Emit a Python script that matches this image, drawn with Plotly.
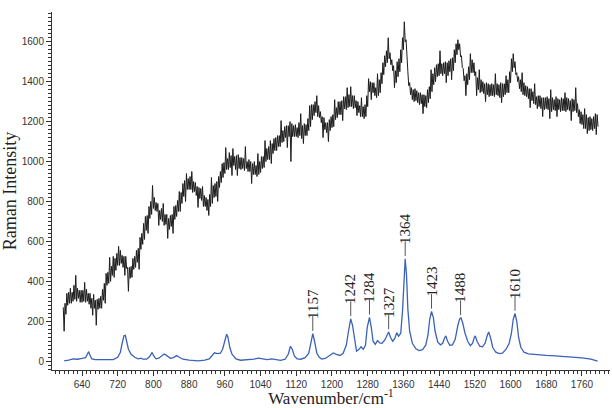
import plotly.graph_objects as go
import numpy as np

# ---- black (raw) spectrum: wavenumber start/step and intensities ----
raw_start = 598
raw_step = 2
raw_intensity = [
    270, 150, 290, 235, 340, 280, 345, 290, 365, 290, 345, 300, 380, 310, 430, 300, 365, 315, 355, 295,
    355, 295, 355, 300, 395, 295, 360, 300, 340, 285, 340, 265, 315, 230, 335, 265, 305, 180, 310, 260,
    315, 265, 325, 265, 360, 305, 390, 290, 440, 380, 445, 390, 520, 400, 475, 430, 525, 420, 515, 455,
    540, 480, 575, 480, 555, 490, 530, 470, 525, 430, 525, 465, 470, 350, 470, 415, 475, 420, 515, 460,
    525, 470, 555, 495, 565, 460, 620, 560, 640, 585, 690, 610, 725, 655, 730, 640, 775, 715, 800, 735,
    880, 765, 820, 755, 795, 750, 790, 680, 755, 710, 765, 700, 790, 680, 735, 685, 735, 615, 715, 660,
    730, 675, 735, 640, 775, 710, 780, 725, 805, 750, 850, 750, 845, 790, 890, 825, 905, 800, 940, 860,
    915, 860, 925, 860, 950, 845, 900, 850, 895, 830, 875, 770, 870, 815, 865, 805, 875, 775, 830, 775,
    820, 755, 810, 730, 835, 775, 920, 790, 880, 820, 890, 825, 900, 800, 925, 870, 950, 895, 990, 920,
    995, 940, 1070, 960, 1015, 960, 1045, 970, 1030, 930, 1065, 980, 1025, 960, 1030, 930, 1035, 965, 1020, 960,
    1020, 965, 1015, 955, 1075, 965, 1000, 950, 1010, 950, 1000, 890, 990, 935, 1000, 935, 980, 925, 1040, 935,
    1000, 945, 1025, 965, 1025, 970, 1105, 1000, 1065, 1010, 1075, 1010, 1105, 990, 1090, 1040, 1115, 1055, 1120, 1055,
    1130, 1075, 1130, 1075, 1205, 1095, 1155, 1100, 1175, 1120, 1180, 1070, 1180, 1125, 1200, 1000, 1190, 1125, 1180, 1125,
    1185, 1125, 1170, 1120, 1195, 1130, 1240, 1115, 1180, 1090, 1190, 1130, 1185, 1130, 1215, 1155, 1280, 1175, 1285, 1210,
    1285, 1230, 1300, 1245, 1330, 1225, 1280, 1220, 1250, 1195, 1225, 1120, 1220, 1160, 1195, 1145, 1195, 1100, 1210, 1155,
    1225, 1170, 1235, 1175, 1310, 1210, 1270, 1220, 1300, 1235, 1300, 1235, 1305, 1205, 1325, 1265, 1325, 1260, 1370, 1270,
    1335, 1275, 1375, 1275, 1330, 1265, 1330, 1270, 1305, 1230, 1300, 1245, 1280, 1225, 1320, 1225, 1275, 1215, 1285, 1225,
    1330, 1275, 1415, 1350, 1400, 1310, 1395, 1345, 1395, 1330, 1370, 1320, 1440, 1330, 1410, 1345, 1445, 1390, 1495, 1435,
    1530, 1475, 1555, 1495, 1620, 1515, 1545, 1485, 1510, 1455, 1480, 1370, 1455, 1395, 1500, 1425, 1515, 1450, 1560, 1495,
    1620, 1560, 1700, 1600, 1610, 1500, 1450, 1380, 1395, 1335, 1370, 1310, 1360, 1300, 1365, 1305, 1355, 1295, 1345, 1285,
    1345, 1290, 1335, 1240, 1335, 1275, 1330, 1270, 1360, 1295, 1375, 1315, 1460, 1350, 1440, 1385, 1470, 1400, 1485, 1425,
    1490, 1430, 1555, 1440, 1490, 1430, 1495, 1440, 1500, 1395, 1495, 1430, 1505, 1450, 1515, 1410, 1520, 1455, 1560, 1495,
    1590, 1535, 1610, 1560, 1590, 1525, 1530, 1470, 1465, 1405, 1430, 1330, 1440, 1385, 1475, 1410, 1540, 1445, 1510, 1445,
    1495, 1430, 1450, 1330, 1420, 1360, 1460, 1345, 1410, 1350, 1400, 1340, 1390, 1300, 1395, 1335, 1390, 1325, 1385, 1330,
    1390, 1330, 1385, 1325, 1440, 1335, 1390, 1330, 1385, 1320, 1395, 1295, 1390, 1325, 1390, 1335, 1430, 1345, 1410, 1345,
    1450, 1395, 1515, 1450, 1540, 1470, 1500, 1435, 1445, 1400, 1425, 1365, 1410, 1350, 1445, 1335, 1395, 1330, 1380, 1325,
    1375, 1315, 1365, 1270, 1365, 1305, 1350, 1290, 1390, 1285, 1325, 1265, 1330, 1275, 1330, 1265, 1320, 1225, 1320, 1260,
    1320, 1265, 1325, 1260, 1315, 1215, 1360, 1250, 1320, 1260, 1310, 1255, 1325, 1225, 1315, 1260, 1310, 1250, 1320, 1255,
    1315, 1255, 1345, 1250, 1320, 1260, 1315, 1255, 1305, 1205, 1315, 1250, 1310, 1255, 1370, 1245, 1290, 1225, 1260, 1190,
    1250, 1185, 1235, 1165, 1265, 1165, 1235, 1140, 1220, 1155, 1225, 1160, 1215, 1155, 1225, 1165, 1240, 1135, 1235, 1175,
]
raw_wavenumber = [raw_start + raw_step * i for i in range(len(raw_intensity))]

# ---- blue (processed) spectrum ----
proc_wavenumber = [
    600, 610, 620, 630, 640, 648, 652, 655, 658, 662, 670, 690, 700, 710, 720, 726, 730, 734, 737, 740,
    744, 750, 758, 766, 772, 776, 785, 792, 797, 801, 806, 812, 818, 824, 830, 838, 845, 852, 858, 866,
    880, 900, 915, 925, 932, 937, 943, 950, 955, 960, 964, 967, 971, 976, 985, 995, 1010, 1025, 1035, 1045,
    1055, 1065, 1072, 1085, 1095, 1102, 1107, 1111, 1116, 1122, 1130, 1140, 1148, 1153, 1157, 1161, 1166, 1172, 1177, 1185,
    1192, 1198, 1203, 1210, 1218, 1225, 1232, 1237, 1242, 1246, 1250, 1255, 1260, 1265, 1270, 1275, 1279, 1284, 1288, 1292,
    1297, 1302, 1307, 1312, 1318, 1323, 1327, 1331, 1336, 1341, 1345, 1349, 1354, 1358, 1361, 1364, 1367, 1370, 1374, 1380,
    1388, 1395, 1403, 1410, 1415, 1419, 1423, 1427, 1431, 1437, 1443, 1448, 1452, 1455, 1459, 1464, 1470, 1476, 1482, 1486,
    1489, 1493, 1498, 1504, 1510, 1515, 1519, 1521, 1525, 1531, 1537, 1543, 1548, 1551, 1555, 1560, 1567, 1575, 1582, 1590,
    1597, 1602, 1606, 1610, 1614, 1618, 1623, 1630, 1640, 1660, 1680, 1700, 1720, 1740, 1760, 1780, 1795,
]
proc_intensity = [
    2, 5, 12, 10, 14, 18, 35, 48, 30, 12, 8, 8, 10, 8, 20, 45, 90, 128, 130, 100,
    60, 35, 20, 12, 15, 10, 10, 25, 44, 25, 12, 15, 28, 36, 28, 15, 18, 28, 20, 10,
    5, 2, 5, 12, 30, 42, 38, 40, 60, 110, 135, 120, 70, 35, 12, 5, 6, 10, 15, 12,
    8, 12, 10, 4, 10, 35, 75, 60, 25, 12, 10, 18, 40, 100, 138, 100, 40, 18, 11, 14,
    25, 36, 41, 34, 29, 40, 80, 150, 212, 180, 110, 50, 58, 72, 60, 80, 170, 220, 170, 100,
    85, 103, 92, 90, 105, 130, 146, 120, 100, 115, 143, 125, 140, 250, 420, 513, 430, 260, 150, 90,
    62, 53, 58, 80, 130, 210, 249, 220, 150, 95, 82, 90, 115, 127, 100, 80, 82, 110, 180, 212,
    217, 190, 140, 100, 78, 90, 120, 127, 100, 75, 72, 90, 130, 146, 120, 70, 45, 38, 40, 60,
    90, 140, 210, 239, 200, 120, 70, 45, 37, 32, 29, 27, 24, 20, 17, 10, 0,
]

peak_labels = [1157, 1242, 1284, 1327, 1364, 1423, 1488, 1610]

fig = go.Figure()
fig.add_trace(go.Scatter(x=raw_wavenumber, y=raw_intensity, mode="lines",
                         line=dict(color="#1c1c1c", width=1), showlegend=False))
fig.add_trace(go.Scatter(x=proc_wavenumber, y=proc_intensity, mode="lines",
                         line=dict(color="#3a62b8", width=1.3), showlegend=False))

pw = np.array(proc_wavenumber)
pi = np.array(proc_intensity)
for p in peak_labels:
    h = pi[np.abs(pw - p) <= 4].max()
    fig.add_shape(type="line", x0=p, x1=p, y0=h + 14, y1=h + 88,
                  line=dict(color="#555555", width=1))
    fig.add_annotation(x=p, y=h + 88, text=str(p), showarrow=False, textangle=-90,
                       xanchor="center", yanchor="bottom", yshift=-5,
                       font=dict(family="Liberation Serif", size=15, color="#222222"))

fig.update_layout(
    width=612, height=408,
    margin=dict(l=52, r=2, t=12, b=29),
    paper_bgcolor="white", plot_bgcolor="white",
    font=dict(family="Liberation Sans", size=10, color="#333333"),
)
fig.update_xaxes(
    range=[572.8, 1822.8], tick0=640, dtick=80, ticks="outside", ticklen=5,
    tickcolor="#333333", showline=True, linecolor="#333333", linewidth=1,
    showgrid=False, zeroline=False,
    minor=dict(dtick=10, ticks="outside", ticklen=3, tickcolor="#333333", showgrid=False),
    title=dict(text="Wavenumber/cm<sup>-1</sup>", standoff=4,
               font=dict(family="Liberation Serif", size=17, color="#222222")),
)
fig.update_yaxes(
    range=[-44, 1749], tick0=0, dtick=200, ticks="outside", ticklen=5,
    tickcolor="#333333", showline=True, linecolor="#333333", linewidth=1,
    showgrid=False, zeroline=False,
    minor=dict(dtick=20, ticks="outside", ticklen=3, tickcolor="#333333", showgrid=False),
    title=dict(text="Raman Intensity", standoff=6,
               font=dict(family="Liberation Serif", size=18, color="#222222")),
)

fig.write_html("out.html")
